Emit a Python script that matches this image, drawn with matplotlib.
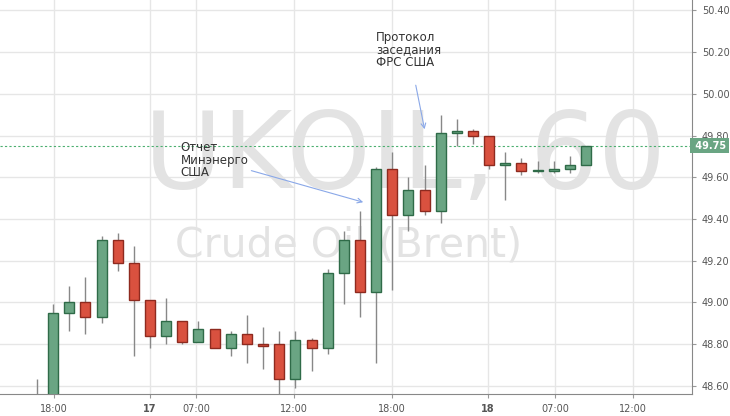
import matplotlib
matplotlib.use("Agg")
import matplotlib.pyplot as plt

opens  = [48.52,48.50,48.95,49.00,48.93,49.30,49.19,49.01,48.84,48.91,48.81,48.87,48.78,48.85,48.80,48.80,48.63,48.82,48.78,49.14,49.30,49.05,49.64,49.42,49.54,49.44,49.81,49.82,49.80,49.66,49.67,49.63,49.63,49.64,49.66]
highs  = [48.63,48.99,49.08,49.12,49.32,49.33,49.27,49.01,49.02,48.91,48.91,48.87,48.86,48.94,48.88,48.86,48.86,48.83,49.16,49.34,49.44,49.65,49.72,49.60,49.66,49.90,49.88,49.83,49.80,49.72,49.69,49.68,49.68,49.70,49.75]
lows   = [48.45,48.45,48.86,48.85,48.90,49.15,48.74,48.78,48.80,48.80,48.81,48.78,48.74,48.71,48.68,48.56,48.59,48.67,48.75,48.99,48.93,48.71,49.06,49.34,49.42,49.38,49.75,49.76,49.64,49.49,49.61,49.62,49.62,49.62,49.66]
closes = [48.50,48.95,49.00,48.93,49.30,49.19,49.01,48.84,48.91,48.81,48.87,48.78,48.85,48.80,48.79,48.63,48.82,48.78,49.14,49.30,49.05,49.64,49.42,49.54,49.44,49.81,49.82,49.80,49.66,49.67,49.63,49.63,49.64,49.66,49.75]
tick_pos = [1.05,7.0,9.85,15.9,22.0,27.9,32.1,36.9]
tick_labels = ["18:00","17","07:00","12:00","18:00","18","07:00","12:00"]
y_ticks = [48.6,48.8,49.0,49.2,49.4,49.6,49.8,50.0,50.2,50.4]
last_price = 49.75

fig = plt.figure(figsize=(7.3,4.16), dpi=100, facecolor="white")
ax = fig.add_axes([0.0, 22/416, 692/730, 394/416])
ax.set_xlim(-2.29, 40.56)
ax.set_ylim(48.56, 50.45)
ax.set_facecolor("white")

for x in tick_pos:
    ax.axvline(x, color="#e6e6e6", lw=1, zorder=0)
for y in y_ticks:
    ax.axhline(y, color="#e6e6e6", lw=1, zorder=0)

ax.text(22.8, 49.69, "UKOIL, 60", fontsize=77, color="#e3e3e3", ha="center", va="center", zorder=0.5)
ax.text(19.3, 49.27, "Crude Oil (Brent)", fontsize=29.5, color="#e3e3e3", ha="center", va="center", zorder=0.5)

up_f, up_e = "#6aa583", "#2f6b48"
dn_f, dn_e = "#d9513f", "#8e2a1f"
w = 0.62
for i,(o,h,l,c) in enumerate(zip(opens,highs,lows,closes)):
    up = c >= o
    ax.vlines(i, l, h, color="#888888", lw=1, zorder=2)
    lo, hi = min(o,c), max(o,c)
    hgt = max(hi-lo, 0.004)
    ax.add_patch(plt.Rectangle((i-w/2, lo), w, hgt, facecolor=up_f if up else dn_f,
                               edgecolor=up_e if up else dn_e, lw=1, zorder=3))

ax.axhline(last_price, color="#4caf70", lw=0.8, ls=(0,(2,2)), zorder=1)

ax.yaxis.tick_right()
ax.set_yticks(y_ticks)
ax.set_yticklabels([f"{v:.2f}" for v in y_ticks], fontsize=7, color="#555555")
ax.set_xticks(tick_pos)
ax.set_xticklabels(tick_labels, fontsize=7, color="#555555")
for t in ax.get_xticklabels():
    if t.get_text() in ("17","18"):
        t.set_fontweight("bold")
ax.tick_params(length=3, color="#999999", pad=4)
for s in ["top","left"]:
    ax.spines[s].set_visible(False)
ax.spines["right"].set_color("#888888")
ax.spines["bottom"].set_color("#888888")

ax.text(40.56, last_price, f" {last_price:.2f}", transform=ax.transData, fontsize=7, color="white",
        fontweight="bold", va="center", ha="left", clip_on=False,
        bbox=dict(boxstyle="square,pad=0.25", fc="#6aa583", ec="none"))

ax.annotate("Отчет\nМинэнерго\nСША", xy=(20.2, 49.48), xytext=(8.9, 49.59),
            fontsize=8.5, color="#333333", ha="left", va="bottom", linespacing=0.95,
            arrowprops=dict(arrowstyle="->", color="#8aa8e8", lw=0.8, shrinkA=0, shrinkB=0))
ax.annotate("Протокол\nзаседания\nФРС США", xy=(24.0, 49.83), xytext=(21.0, 50.12),
            fontsize=8.5, color="#333333", ha="left", va="bottom", linespacing=0.95,
            arrowprops=dict(arrowstyle="->", color="#8aa8e8", lw=0.8, shrinkA=10, shrinkB=0))
fig.savefig("out.png", dpi=100, facecolor="white")
